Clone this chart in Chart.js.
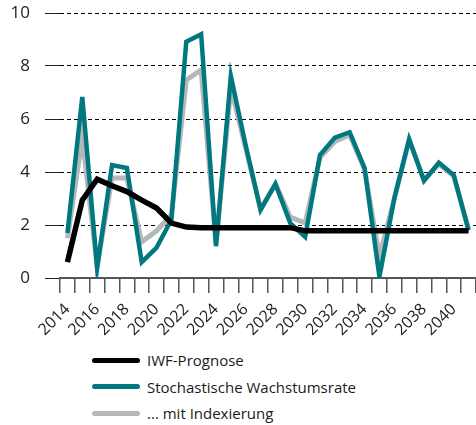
<!DOCTYPE html>
<html>
<head>
<meta charset="utf-8">
<script src="https://cdn.jsdelivr.net/npm/chart.js@4/dist/chart.umd.min.js"></script>
<style>
  body { margin: 0; background: #fff; }
  #wrap { position: relative; width: 476px; height: 425px; }
  #legend { position: absolute; left: 92px; top: 347px; font-family: "Open Sans", sans-serif; font-size: 15px; color: #1a1a1a; }
  #legend .item { display: flex; align-items: center; height: 26.5px; }
  #legend .swatch { width: 48px; height: 5px; border-radius: 3px; margin-right: 7px; }
</style>
</head>
<body>
<div id="wrap">
  <canvas id="chart" width="476" height="345"></canvas>
  <div id="legend"></div>
</div>
<script>
  // Years on the x axis.
  const years = ['2014', '2015', '2016', '2017', '2018', '2019', '2020', '2021', '2022', '2023',
    '2024', '2025', '2026', '2027', '2028', '2029', '2030', '2031', '2032', '2033',
    '2034', '2035', '2036', '2037', '2038', '2039', '2040', '2041'];

  // IWF-Prognose.
  const iwf = [0.6, 2.94, 3.73, 3.48, 3.26, 2.94, 2.64, 2.07, 1.92, 1.9,
    1.9, 1.9, 1.9, 1.9, 1.9, 1.9, 1.78, 1.78, 1.78, 1.78,
    1.78, 1.78, 1.78, 1.78, 1.78, 1.78, 1.78, 1.78];

  // Stochastische Wachstumsrate.
  const stoch = [1.7, 6.83, 0.38, 4.26, 4.15, 0.6, 1.15, 2.2, 8.92, 9.2,
    1.2, 7.62, 5.0, 2.57, 3.55, 2.07, 1.55, 4.64, 5.3, 5.5,
    4.15, 0.05, 3.0, 5.24, 3.67, 4.35, 3.89, 1.8];

  // ... mit Indexierung.
  const indexed = [1.5, 5.3, 0.45, 3.77, 3.77, 1.36, 1.78, 2.4, 7.47, 7.85,
    1.3, 7.2, 4.9, 2.6, 3.55, 2.3, 2.07, 4.55, 5.15, 5.4,
    4.1, 0.8, 3.0, 5.2, 3.7, 4.3, 3.85, 1.85];

  const yTicks = [0, 2, 4, 6, 8, 10];

  const font = '"Open Sans", sans-serif';

  const chart = new Chart(document.getElementById('chart'), {
    type: 'line',
    data: {
      labels: years,
      datasets: [
        { label: 'IWF-Prognose', data: iwf, borderColor: '#000', borderWidth: 5.5 },
        { label: 'Stochastische Wachstumsrate', data: stoch, borderColor: '#007880', borderWidth: 4.5 },
        { label: '... mit Indexierung', data: indexed, borderColor: '#b5b7bb', borderWidth: 5 }
      ]
    },
    options: {
      responsive: false,
      animation: false,
      devicePixelRatio: 1,
      layout: { padding: { top: 13, right: 0, left: 0, bottom: 0 } },
      elements: {
        point: { radius: 0 },
        line: { tension: 0, borderJoinStyle: 'miter', borderCapStyle: 'butt', fill: false }
      },
      plugins: { legend: { display: false }, tooltip: { enabled: false } },
      scales: {
        x: {
          type: 'category',
          offset: true,
          afterFit: function (scale) {
            scale.height = 67;
            scale.paddingLeft = 0;
            scale.paddingRight = 0;
          },
          grid: { offset: true, drawOnChartArea: false, tickLength: 15, tickColor: '#555', lineWidth: 1.5 },
          border: { display: true, color: '#555', width: 2 },
          ticks: {
            autoSkip: false,
            minRotation: 45,
            maxRotation: 45,
            padding: 7,
            color: '#222',
            font: { family: font, size: 16 },
            callback: function (v, i) { return i % 2 === 0 ? years[i] : ''; }
          }
        },
        y: {
          min: 0,
          max: 10,
          afterFit: function (scale) {
            scale.width = 60;
            scale.paddingTop = 0;
            scale.paddingBottom = 0;
          },
          afterBuildTicks: function (scale) { scale.ticks = yTicks.map(v => ({ value: v })); },
          grid: {
            color: '#000',
            lineWidth: 1,
            tickLength: 15,
            tickColor: '#222',
            tickBorderDash: []
          },
          border: { display: false, dash: [4, 3] },
          ticks: { padding: 15, color: '#222', font: { family: font, size: 17 } }
        }
      }
    }
  });

  // Legend below the chart, one entry per line.
  const legend = document.getElementById('legend');
  chart.data.datasets.forEach(function (ds) {
    const item = document.createElement('div');
    item.className = 'item';
    const sw = document.createElement('span');
    sw.className = 'swatch';
    sw.style.background = ds.borderColor;
    const txt = document.createElement('span');
    txt.textContent = ds.label;
    item.appendChild(sw);
    item.appendChild(txt);
    legend.appendChild(item);
  });
</script>
</body>
</html>
